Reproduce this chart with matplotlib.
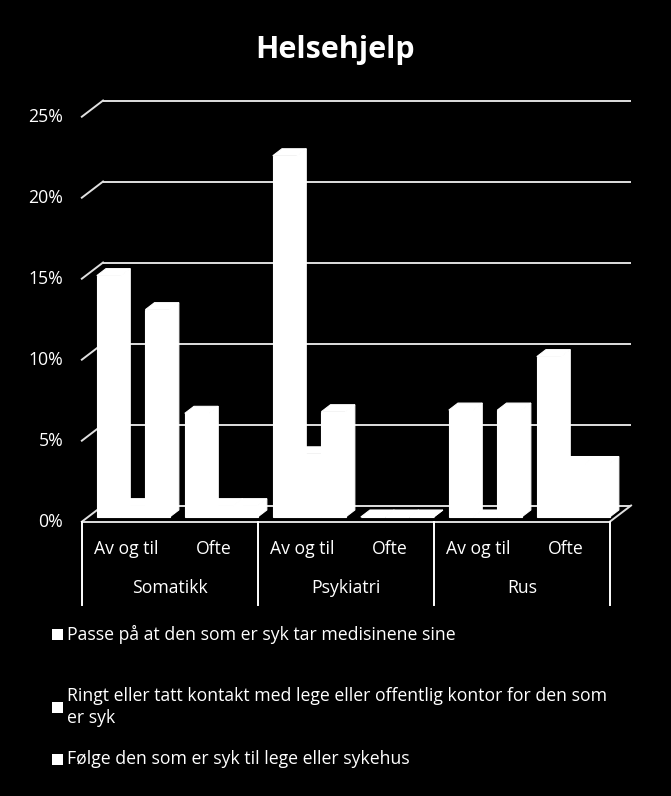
import matplotlib.pyplot as plt
from matplotlib.patches import Polygon, Rectangle

# --- data ---
groups = ['Somatikk', 'Psykiatri', 'Rus']
subcats = ['Av og til', 'Ofte', 'Av og til', 'Ofte', 'Av og til', 'Ofte']
series_names = [
    'Passe på at den som er syk tar medisinene sine',
    'Ringt eller tatt kontakt med lege eller offentlig kontor for den som\ner syk',
    'Følge den som er syk til lege eller sykehus',
]
passe_paa = [14.9, 6.4, 22.3, 0.0, 6.6, 9.9]
ringt = [0.7, 0.7, 3.9, 0.0, 0.0, 3.3]
folge = [12.8, 0.7, 6.5, 0.0, 6.6, 3.3]
yticks = [0, 5, 10, 15, 20, 25]

W, H = 671, 796
FONT = ['Open Sans', 'DejaVu Sans']
plt.rcParams['font.family'] = FONT
FS = 12.7

fig = plt.figure(figsize=(W / 100, H / 100), dpi=100, facecolor='black')
# axes = plane of the bars' front faces
ax = fig.add_axes([88 / W, (H - 517) / H, 528 / W, 405 / H])
ax.set_xlim(0, 6)
ax.set_ylim(0, 25)
ax.axis('off')
ax.set_facecolor('black')

PX_X = 528 / 6      # px per category
PX_Y = 405 / 25     # px per percent
RATIO = 1.31        # horizontal / vertical depth shift


def depth(d):
    """data shift for a depth of d px (positive = towards back)"""
    return d * RATIO / PX_X, d / PX_Y


fdx, fdy = depth(-4.7)   # front edge of floor
bdx, bdy = depth(11.5)   # back wall
cdx, cdy = depth(7.0)    # depth of a bar

grid_col = '#e0e0e0'
# gridlines on back wall + left wall diagonals
for t in yticks:
    ax.plot([0 + bdx, 6 + bdx], [t + bdy, t + bdy], color=grid_col, lw=1.4,
            clip_on=False, zorder=1, solid_capstyle='butt')
    ax.plot([0 + fdx, 0 + bdx], [t + fdy, t + bdy], color=grid_col, lw=1.4,
            clip_on=False, zorder=1)
    ax.text(-0.28, t + fdy, f'{t}%', color='white', fontsize=FS,
            ha='right', va='center')

# floor front edge and right diagonal
ax.plot([0 + fdx, 6 + fdx], [fdy, fdy], color=grid_col, lw=1.4, clip_on=False, zorder=1)
ax.plot([6 + fdx, 6 + bdx], [fdy, bdy], color=grid_col, lw=1.4, clip_on=False, zorder=1)

# bars with 3D faces (all white)
bw = 0.276
for i, vals in enumerate([passe_paa, ringt, folge]):
    xs = [k + 0.10 + i * bw for k in range(len(vals))]
    ax.bar(xs, vals, width=bw, align='edge', color='white', edgecolor='white',
           linewidth=0.8, zorder=3, clip_on=False)
    for x0, v in zip(xs, vals):
        top = [(x0, v), (x0 + bw, v), (x0 + bw + cdx, v + cdy), (x0 + cdx, v + cdy)]
        side = [(x0 + bw, 0), (x0 + bw, v), (x0 + bw + cdx, v + cdy), (x0 + bw + cdx, cdy)]
        for poly in (top, side):
            ax.add_patch(Polygon(poly, closed=True, facecolor='white', edgecolor='white',
                                 linewidth=0.8, zorder=3, clip_on=False))

# category axis
y_bottom = -5.45
for g in range(len(groups) + 1):
    ax.plot([2 * g + fdx, 2 * g + fdx], [fdy, y_bottom], color='white', lw=1.4,
            clip_on=False, zorder=1)
for k, lab in enumerate(subcats):
    ax.text(k + 0.5 + fdx, -1.95, lab, color='white', fontsize=FS,
            ha='center', va='center')
for g, lab in enumerate(groups):
    ax.text(2 * g + 1 + fdx, -4.4, lab, color='white', fontsize=FS,
            ha='center', va='center')

fig.text(335 / W, 1 - 50 / H, 'Helsehjelp', color='white', fontsize=22,
         fontweight='bold', ha='center', va='center')

# legend
leg_y = [634, 707, 759]
for name, y in zip(series_names, leg_y):
    fig.patches.append(Rectangle((52 / W, 1 - (y + 5.5) / H), 11 / W, 11 / H,
                                 transform=fig.transFigure, facecolor='white',
                                 edgecolor='none'))
    fig.text(67 / W, 1 - y / H, name, color='white', fontsize=FS,
             ha='left', va='center', linespacing=1.3)

fig.savefig('out.png', dpi=100, facecolor='black')
